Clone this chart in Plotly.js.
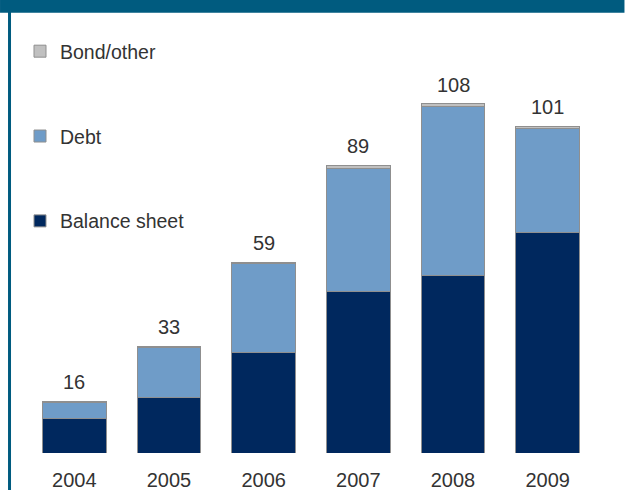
<!DOCTYPE html>
<html>
<head>
<meta charset="utf-8">
<script src="https://cdn.plot.ly/plotly-3.0.1.min.js"></script>
<style>html,body{margin:0;padding:0;background:#fff;}#chart{width:625px;height:490px;}</style>
</head>
<body>
<div id="chart"></div>
<script>
const years = ['2004', '2005', '2006', '2007', '2008', '2009'];
const balanceSheet = [10.8, 17.2, 31.2, 50.0, 55.0, 68.3];
const debt = [4.7, 15.3, 27.3, 37.8, 52.2, 32.0];
const bondOther = [0.5, 0.5, 0.5, 1.2, 0.8, 0.7];
const totals = [16, 33, 59, 89, 108, 101];

const FONT = 'Liberation Sans, Arial, sans-serif';
const outline = {color: '#8f8f8f', width: 1};

const traces = [
  {type: 'bar', name: 'Balance sheet', x: years, y: balanceSheet, legendgroup: 'bs', legendrank: 3,
   marker: {color: '#00285e', line: outline}, hoverinfo: 'skip'},
  {type: 'bar', name: 'Debt', x: years, y: debt, legendgroup: 'debt', legendrank: 2,
   marker: {color: '#6f9cc8', line: outline}, hoverinfo: 'skip'},
  {type: 'bar', name: 'Bond/other', x: years, y: bondOther, legendgroup: 'bond', legendrank: 1,
   marker: {color: '#c0c0c0', line: outline}, hoverinfo: 'skip'}
];

// annotation x uses the category index (category axis)
const annotations = years.map((yr, i) => ({
  x: i, y: totals[i], xref: 'x', yref: 'y', text: String(totals[i]),
  showarrow: false, yanchor: 'bottom', yshift: 6,
  font: {family: FONT, size: 20, color: '#333333'}
}));

// plot area in pixels: x 27..595.5, y 13..453
const L = 27, R = 595.5, T = 13, B = 453;
const px = p => (p - L) / (R - L);
const py = p => (B - p) / (B - T);

const layout = {
  width: 625, height: 490,
  margin: {l: L, r: 625 - R, t: T, b: 490 - B, pad: 0},
  paper_bgcolor: '#ffffff', plot_bgcolor: '#ffffff',
  barmode: 'stack', bargap: 0.33,
  font: {family: FONT, color: '#333333'},
  xaxis: {type: 'category', categoryorder: 'array', categoryarray: years, range: [-0.5, 5.5],
          autorange: false, showgrid: false, zeroline: false, showline: false, ticks: '',
          ticklabelstandoff: 13, tickfont: {family: FONT, size: 20, color: '#333333'}, fixedrange: true},
  yaxis: {range: [0, 136], autorange: false, visible: false, showgrid: false, zeroline: false, fixedrange: true},
  showlegend: true,
  legend: {x: px(20), xanchor: 'left', y: py(32), yanchor: 'top', traceorder: 'grouped',
           tracegroupgap: 56.5, bgcolor: 'rgba(0,0,0,0)', borderwidth: 0,
           font: {family: FONT, size: 19.5, color: '#333333'}},
  annotations: annotations,
  shapes: [
    {type: 'rect', xref: 'paper', yref: 'paper', x0: px(0), x1: px(625), y0: py(12.7), y1: py(0),
     fillcolor: '#005b7f', line: {width: 0}, layer: 'above'},
    {type: 'rect', xref: 'paper', yref: 'paper', x0: px(8), x1: px(11), y0: py(490), y1: py(12),
     fillcolor: '#005b7f', line: {width: 0}, layer: 'above'}
  ]
};

Plotly.newPlot('chart', traces, layout, {displayModeBar: false, staticPlot: true});
</script>
</body>
</html>
